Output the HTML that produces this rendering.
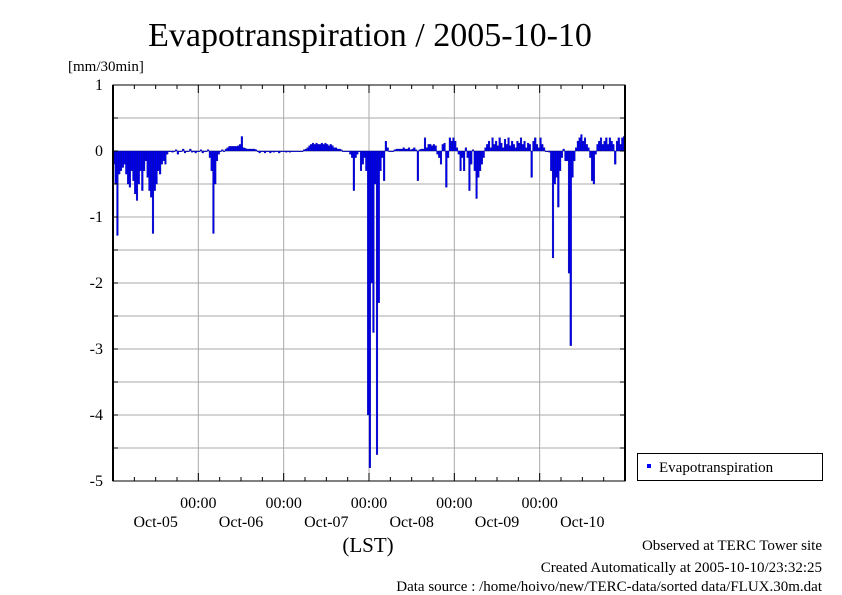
<!DOCTYPE html>
<html><head><meta charset="utf-8">
<style>
body{margin:0;background:#fff;}
svg{display:block;font-family:"Liberation Serif",serif;}
</style></head><body>
<svg id="chart" width="842" height="595" viewBox="0 0 842 595" xmlns="http://www.w3.org/2000/svg">
<rect width="842" height="595" fill="#fff"/>
<text x="370" y="46" font-size="34" text-anchor="middle">Evapotranspiration / 2005-10-10</text>
<text x="68" y="71" font-size="15">[mm/30min]</text>
<g id="grid"></g>
<g id="bars"></g>
<g id="axes"></g>
<text x="368" y="552" font-size="21" text-anchor="middle">(LST)</text>
<g>
<rect x="637.5" y="453.5" width="185" height="27" fill="#fff" stroke="#000"/>
<rect x="647" y="464" width="4" height="4" fill="#0000ff"/>
<text x="659" y="472" font-size="15">Evapotranspiration</text>
</g>
<text x="822" y="550" font-size="15" text-anchor="end">Observed at TERC Tower site</text>
<text x="822" y="572" font-size="15" text-anchor="end">Created Automatically at 2005-10-10/23:32:25</text>
<text x="822" y="595" font-size="15" text-anchor="end" dy="-4">Data source : /home/hoivo/new/TERC-data/sorted  data/FLUX.30m.dat</text>
</svg>
<script>
const dayLabels=["Oct-05","Oct-06","Oct-07","Oct-08","Oct-09","Oct-10"];
const yTicks=[1,0,-1,-2,-3,-4,-5];
const day1=[-0.2,-0.5,-1.28,-0.35,-0.3,-0.25,-0.2,-0.35,-0.5,-0.55,-0.3,-0.45,-0.65,-0.75,-0.5,-0.3,-0.6,-0.3,-0.15,-0.4,-0.6,-0.7,-1.25,-0.6,-0.5,-0.3,-0.35,-0.2,-0.15,-0.2,-0.05,0,0,-0.02,0,0.02,-0.05,0,0,0.03,-0.03,0,0,0.03,-0.02,0,-0.03,0];
const day2=[0,0.02,-0.03,0,0,0.02,-0.1,-0.3,-1.25,-0.5,-0.15,-0.05,0,0.02,0,0.03,0.05,0.07,0.07,0.07,0.07,0.07,0.08,0.1,0.22,0.05,0.04,0.03,0.03,0.03,0.03,0.03,0.02,0,-0.03,0,0,-0.03,0,0,-0.03,0,-0.02,0,0,-0.03,0,0];
const day3=[0,-0.02,0,-0.02,0,0,0,0,0,0,0,0.02,0.03,0.05,0.08,0.1,0.12,0.1,0.12,0.1,0.1,0.12,0.1,0.12,0.1,0.08,0.1,0.08,0.05,0.05,0.03,0.03,0.02,0,0,0,0,-0.05,-0.1,-0.6,-0.1,-0.05,0,-0.3,-0.2,-0.1,-0.3,-4.0];
const day4=[-4.8,-2.0,-2.75,-0.5,-4.6,-2.3,-0.3,-0.1,-0.45,0.15,0.05,0,0,0,0.02,0.03,0.03,0.03,0.03,0.05,0.03,0.03,0.05,0.02,0.03,0.05,0.02,-0.45,0.02,0.03,0.03,0.2,0.05,0.1,0.1,0.08,0.1,0.08,-0.05,-0.1,-0.2,0.1,0.12,-0.55,-0.1,0.2,0.15,0.2];
const day5=[0.15,0.05,-0.05,-0.3,-0.1,-0.3,0.05,-0.1,-0.6,-0.2,0.02,-0.3,-0.72,-0.4,-0.3,-0.2,-0.1,0.05,0.1,0.15,0.05,0.2,0.1,0.15,0.08,0.2,0.12,0.05,0.18,0.1,0.2,0.08,0.15,0.1,0.05,0.15,0.12,0.2,0.1,0.15,0.05,0.12,0.1,-0.4,0.15,0.2,0.1,0.05];
const day6=[0.2,0.1,0.05,0,0,-0.02,-0.3,-1.62,-0.5,-0.4,-0.85,-0.3,-0.1,0.03,-0.15,-0.15,-1.85,-2.95,-0.4,-0.15,0.05,0.15,0.2,0.25,0.15,0.2,0.1,0.05,-0.1,-0.45,-0.5,-0.05,0.1,0.15,0.2,0.1,0.15,0.2,0.1,0.2,0.15,0.1,-0.2,0.15,0.2,0.1,0.2,0.22];
const values=[].concat(day1,day2,day3,day4,day5,day6);

const NS="http://www.w3.org/2000/svg";
const L=113,R=625,T=85,B=481,yMin=-5,yMax=1;
const nDays=dayLabels.length, nPts=nDays*48;
const xScale=i=>L+(R-L)*i/nPts;
const yScale=v=>T+(yMax-v)/(yMax-yMin)*(B-T);
function mk(tag,attrs,parent){const e=document.createElementNS(NS,tag);for(const k in attrs)e.setAttribute(k,attrs[k]);parent.appendChild(e);return e;}
const grid=document.getElementById('grid'),bars=document.getElementById('bars'),axes=document.getElementById('axes');
// horizontal grid every 0.5
for(let v=yMin;v<=yMax;v+=0.5){const y=yScale(v);
 const g=mk('line',{x1:L,x2:R,y1:y,y2:y,stroke:'#aaa','stroke-width':1},grid);
 
 
 mk('line',{x1:L,x2:L+5,y1:y,y2:y,stroke:'#000'},axes);
 mk('line',{x1:R-5,x2:R,y1:y,y2:y,stroke:'#000'},axes);
}
yTicks.forEach(v=>{const t=mk('text',{x:103,y:yScale(v)+5,'font-size':16,'text-anchor':'end'},axes);t.textContent=v;
 
 });
for(let d=1;d<nDays;d++){const x=xScale(d*48);
 const g=mk('line',{x1:x,x2:x,y1:T,y2:B,stroke:'#aaa'},grid);
 
 
 const t=mk('text',{x:x,y:508,'font-size':16,'text-anchor':'middle'},axes);t.textContent='00:00';
 
 
}
for(let h=0;h<=nDays*4;h++){const x=xScale(h*12);const len=h%4==0?8:4;
 mk('line',{x1:x,x2:x,y1:B-len,y2:B,stroke:'#000'},axes);
 mk('line',{x1:x,x2:x,y1:T,y2:T+len,stroke:'#000'},axes);}
dayLabels.forEach((lab,d)=>{const t=mk('text',{x:xScale(d*48+24),y:527,'font-size':16,'text-anchor':'middle'},axes);t.textContent=lab;
 
 });
const y0=yScale(0),w=(R-L)/nPts;
values.forEach((v,i)=>{const y=yScale(v);
 const b=mk('rect',{x:xScale(i),y:Math.min(y,y0),width:w,height:Math.max(Math.abs(y-y0),0.8),fill:'#0000ee',stroke:'#00008b','stroke-width':0.3},bars);
 
 });
const fr=mk('rect',{x:L,y:T,width:R-L,height:B-T,fill:'none',stroke:'#000','stroke-width':1},axes);


mk('line',{x1:L,x2:L,y1:T,y2:B,stroke:'#000','stroke-width':2},axes);
mk('line',{x1:R,x2:R,y1:T,y2:B,stroke:'#000','stroke-width':2},axes);
</script>
</body></html>
